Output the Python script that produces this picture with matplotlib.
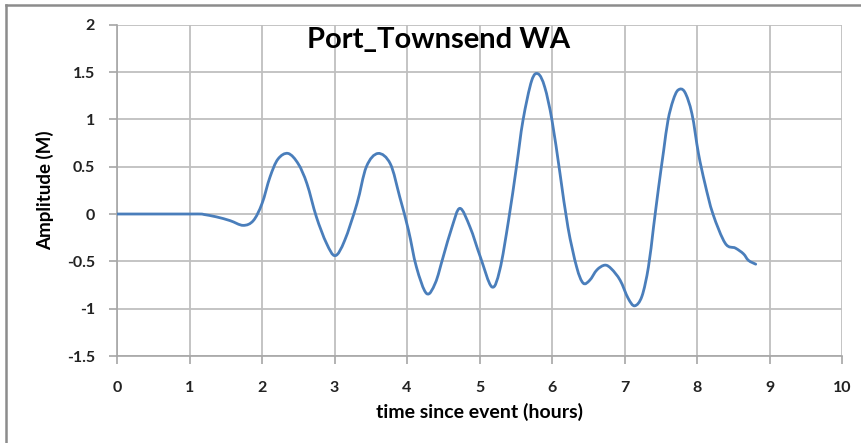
import matplotlib
matplotlib.use("Agg")
import matplotlib.pyplot as plt
from matplotlib.lines import Line2D
from matplotlib.path import Path
from matplotlib.patches import PathPatch

plt.rcParams['font.family'] = ['Lato', 'DejaVu Sans']

title = "Port_Townsend WA"
xlabel = "time since event (hours)"
ylabel = "Amplitude (M)"

hours = [0.0, 0.5, 1.0, 1.15, 1.2, 1.37, 1.56, 1.74, 1.88, 2.00, 2.11, 2.22, 2.36,
         2.50, 2.62, 2.75, 2.89, 3.01, 3.14, 3.31, 3.44, 3.60, 3.77, 3.90, 4.02,
         4.13, 4.27, 4.39, 4.50, 4.62, 4.73, 4.87, 5.01, 5.17, 5.28, 5.40, 5.51,
         5.60, 5.72, 5.81, 5.90, 6.00, 6.11, 6.22, 6.34, 6.43, 6.52, 6.62, 6.73,
         6.82, 6.94, 7.05, 7.14, 7.24, 7.33, 7.40, 7.47, 7.54, 7.60, 7.67, 7.74,
         7.83, 7.93, 8.02, 8.11, 8.22, 8.39, 8.53, 8.64, 8.71, 8.81]
amplitude = [0.0, 0.0, 0.0, 0.0, -0.005, -0.03, -0.07, -0.12, -0.07, 0.11, 0.39, 0.58, 0.64,
             0.53, 0.32, -0.03, -0.31, -0.44, -0.28, 0.11, 0.50, 0.64, 0.53, 0.18, -0.17,
             -0.56, -0.84, -0.73, -0.45, -0.14, 0.06, -0.14, -0.45, -0.77, -0.59, -0.07, 0.50,
             0.99, 1.41, 1.48, 1.34, 0.99, 0.43, -0.14, -0.56, -0.73, -0.70, -0.59, -0.54,
             -0.58, -0.70, -0.89, -0.97, -0.87, -0.56, -0.14, 0.28, 0.67, 0.99, 1.20, 1.31,
             1.29, 1.06, 0.64, 0.32, 0.00, -0.31, -0.36, -0.42, -0.49, -0.53]

xticks = [0, 1, 2, 3, 4, 5, 6, 7, 8, 9, 10]
yticks = [-1.5, -1, -0.5, 0, 0.5, 1, 1.5, 2]
ytick_labels = ["-1.5", "-1", "-0.5", "0", "0.5", "1", "1.5", "2"]

W, H = 861, 443
fig = plt.figure(figsize=(W / 100, H / 100), dpi=100)
ax = fig.add_axes([117 / W, 1 - 356 / H, (842 - 117) / W, (356 - 24.7) / H])

grid_c = '#bfbfbf'

# Excel-style smoothed line: cubic Bezier segments through the data points
n = len(hours)
verts = [(hours[0], amplitude[0])]
codes = [Path.MOVETO]
for i in range(n - 1):
    i0 = max(i - 1, 0)
    i3 = min(i + 2, n - 1)
    c1 = (hours[i] + (hours[i + 1] - hours[i0]) / 6.0,
          amplitude[i] + (amplitude[i + 1] - amplitude[i0]) / 6.0)
    c2 = (hours[i + 1] - (hours[i3] - hours[i]) / 6.0,
          amplitude[i + 1] - (amplitude[i3] - amplitude[i]) / 6.0)
    verts += [c1, c2, (hours[i + 1], amplitude[i + 1])]
    codes += [Path.CURVE4] * 3
ax.add_patch(PathPatch(Path(verts, codes), facecolor='none', edgecolor='#4a7ebb',
                       lw=2.0, joinstyle='round', capstyle='round', zorder=3))

ax.set_xlim(0, 10)
ax.set_ylim(-1.5, 2)
ax.set_xticks(xticks)
ax.set_xticklabels([str(t) for t in xticks])
ax.set_yticks(yticks)
ax.set_yticklabels(ytick_labels)
ax.grid(True, color=grid_c, lw=1.3)
ax.set_axisbelow(True)
for s in ['top', 'right']:
    ax.spines[s].set_visible(False)
for s in ['left', 'bottom']:
    ax.spines[s].set_color('#a6a6a6')
    ax.spines[s].set_linewidth(1.2)
ax.tick_params(axis='both', direction='out', length=6, width=1.2, color='#a6a6a6',
               labelsize=11.5, labelcolor='#222222')
ax.tick_params(axis='y', pad=10)
ax.tick_params(axis='x', pad=12)
for lab in ax.get_xticklabels() + ax.get_yticklabels():
    lab.set_fontweight('bold')

fig.text(439 / W, 1 - 48 / H, title, ha='center', va='baseline', fontsize=21,
         fontweight='bold', color='black')
fig.text(479 / W, 1 - 418 / H, xlabel, ha='center', va='baseline', fontsize=14,
         fontweight='bold', color='black')
fig.text(45 / W, 1 - 190 / H, ylabel, ha='center', va='center', rotation=90,
         fontsize=13.5, fontweight='bold', color='black')

fig.add_artist(Line2D([6 / W, 1], [1 - 5 / H, 1 - 5 / H], color='#8c8c8c', lw=1.8,
                      transform=fig.transFigure))
fig.add_artist(Line2D([6 / W, 6 / W], [0, 1 - 5 / H], color='#8c8c8c', lw=1.8,
                      transform=fig.transFigure))

fig.savefig("out.png", dpi=100)
